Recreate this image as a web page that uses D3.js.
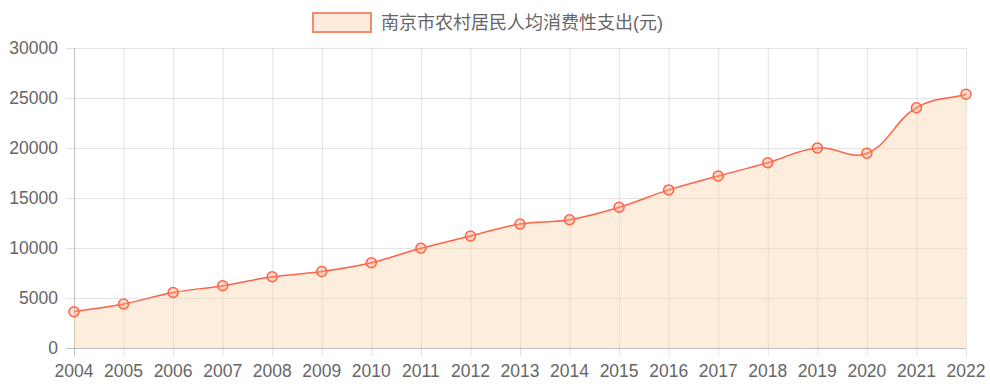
<!DOCTYPE html>
<html><head><meta charset="utf-8">
<script src="https://cdn.jsdelivr.net/npm/d3@7"></script>
<style>body{margin:0;background:#fff}svg{display:block}text{font-family:"Liberation Sans",Arial,"Noto Sans CJK SC",sans-serif;fill:#666}</style>
</head><body><svg id="c" width="990" height="390"></svg>
<script>
const years = ["2004","2005","2006","2007","2008","2009","2010","2011","2012","2013","2014","2015","2016","2017","2018","2019","2020","2021","2022"];
const values = [3630,4400,5550,6230,7120,7650,8530,9970,11200,12400,12830,14070,15810,17200,18530,20000,19470,24030,25370];
const yTicks = [0,5000,10000,15000,20000,25000,30000];
const seriesName = "南京市农村居民人均消费性支出(元)";

const svg = d3.select("#c");
const L=74,R=966,T=48,B=348;
const x = d3.scalePoint().domain(years).range([L,R]);
const y = d3.scaleLinear().domain([0,30000]).range([B,T]);

// grid
const g = svg.append("g");
g.selectAll(".hg").data(yTicks).join("line")
 .attr("x1",L-8).attr("x2",R).attr("y1",d=>y(d)+0.5).attr("y2",d=>y(d)+0.5)
 .attr("stroke",d=>d===0?"rgba(0,0,0,0.25)":"rgba(0,0,0,0.11)");
g.selectAll(".vg").data(years).join("line")
 .attr("x1",d=>x(d)+0.5).attr("x2",d=>x(d)+0.5).attr("y1",T).attr("y2",B+8)
 .attr("stroke",(d,i)=>i===0?"rgba(0,0,0,0.25)":"rgba(0,0,0,0.11)");

// labels
svg.selectAll(".yl").data(yTicks).join("text")
 .attr("x",L-16).attr("y",d=>y(d)).attr("dy","0.35em").attr("text-anchor","end")
 .attr("font-size",17.5).text(d=>d);
svg.selectAll(".xl").data(years).join("text")
 .attr("x",d=>x(d)).attr("y",377).attr("text-anchor","middle")
 .attr("font-size",17.5).text(d=>d);

// chart.js-like spline
const pts = years.map((yr,i)=>[x(yr),y(values[i])]);
function splinePath(p, t){
  const n=p.length, cps=[];
  for(let i=0;i<n;i++){
    const prev=p[Math.max(0,i-1)], cur=p[i], next=p[Math.min(n-1,i+1)];
    const d01=Math.hypot(cur[0]-prev[0],cur[1]-prev[1]);
    const d12=Math.hypot(next[0]-cur[0],next[1]-cur[1]);
    let s01=d01/(d01+d12), s12=d12/(d01+d12);
    if(isNaN(s01))s01=0; if(isNaN(s12))s12=0;
    const fa=t*s01, fb=t*s12;
    cps.push({p:[cur[0]-fa*(next[0]-prev[0]), Math.min(B,Math.max(T,cur[1]-fa*(next[1]-prev[1])))],
              n:[cur[0]+fb*(next[0]-prev[0]), Math.min(B,Math.max(T,cur[1]+fb*(next[1]-prev[1])))]});
  }
  const path=d3.path();
  path.moveTo(p[0][0],p[0][1]);
  for(let i=1;i<n;i++){
    path.bezierCurveTo(cps[i-1].n[0],cps[i-1].n[1],cps[i].p[0],cps[i].p[1],p[i][0],p[i][1]);
  }
  return path.toString();
}
const lineD = splinePath(pts,0.4);
svg.append("path").attr("d", lineD + `L${x(years[years.length-1])},${y(0)}L${x(years[0])},${y(0)}Z`)
 .attr("fill","rgba(250,210,170,0.4)");
svg.append("path").attr("d",lineD).attr("fill","none").attr("stroke","#ff6347").attr("stroke-width",1.5);
svg.selectAll(".pt").data(pts).join("circle")
 .attr("cx",d=>d[0]).attr("cy",d=>d[1]).attr("r",5)
 .attr("fill","rgba(255,160,122,0.35)").attr("stroke","#ff6347").attr("stroke-width",1.5);

// legend
svg.append("rect").attr("x",313).attr("y",13).attr("width",58).attr("height",19)
 .attr("fill","#fdebdc").attr("stroke","#fa8a6c").attr("stroke-width",2);
svg.append("text").attr("x",381).attr("y",23).attr("dy","0.35em").attr("font-size",18).text(seriesName);
</script></body></html>
